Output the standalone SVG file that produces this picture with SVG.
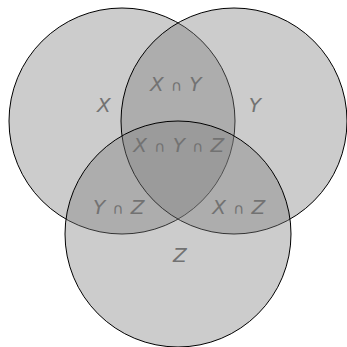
<svg xmlns="http://www.w3.org/2000/svg" width="347" height="347" viewBox="0 0 347 347">
<style>
.set { fill: #808080; fill-opacity: 0.4; stroke: #000; stroke-width: 1; }
.lbl { font-family: "DejaVu Sans", sans-serif; font-style: italic; font-size: 20px; fill: #727272; text-anchor: middle; letter-spacing: 0.5px; }
.cap { font-style: normal; font-size: 15px; }
</style>
<rect width="347" height="347" fill="#fff"/>
<g id="set-X"><circle class="set" cx="122" cy="121" r="113"/></g>
<g id="set-Y"><circle class="set" cx="234" cy="121" r="113"/></g>
<g id="set-Z"><circle class="set" cx="178" cy="234" r="113"/></g>
<g id="connectors"></g>
<g id="labels">
<text class="lbl" x="104" y="112">X</text>
<text class="lbl" x="255" y="112">Y</text>
<text class="lbl" x="176" y="91">X <tspan class="cap">∩</tspan> Y</text>
<text class="lbl" x="179" y="152">X <tspan class="cap">∩</tspan> Y <tspan class="cap">∩</tspan> Z</text>
<text class="lbl" x="119" y="214">Y <tspan class="cap">∩</tspan> Z</text>
<text class="lbl" x="239" y="214">X <tspan class="cap">∩</tspan> Z</text>
<text class="lbl" x="180" y="262">Z</text>
</g>
</svg>
